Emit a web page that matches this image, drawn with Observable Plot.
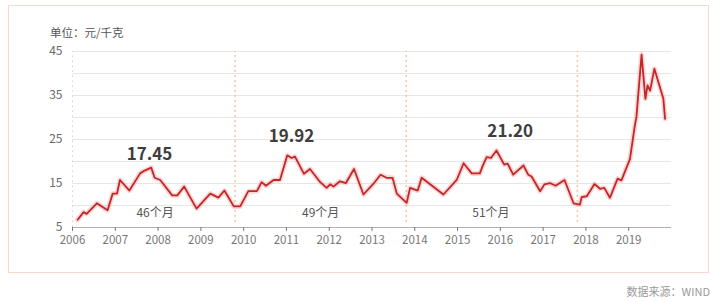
<!DOCTYPE html>
<html>
<head>
<meta charset="utf-8">
<script src="https://cdn.jsdelivr.net/npm/d3@7"></script>
<script src="https://cdn.jsdelivr.net/npm/@observablehq/plot@0.6"></script>
<style>
  html, body { margin: 0; padding: 0; background: #fff; }
  #wrap { position: relative; width: 720px; height: 302px; overflow: hidden; font-family: "Noto Sans CJK SC", "Noto Sans", sans-serif; }
  #frame { position: absolute; left: 8px; top: 5px; width: 701px; height: 268px; border: 1.5px solid #f6d9cf; box-sizing: border-box; }
  #unit { position: absolute; left: 50px; top: 24px; font-size: 11.5px; color: #555; }
  #source { position: absolute; right: 10px; top: 283px; font-size: 11px; color: #9a9a9a; }
  #chart { position: absolute; left: 0; top: 0; }
</style>
</head>
<body>
<div id="wrap">
  <div id="frame"></div>
  <div id="unit">单位：元/千克</div>
  <div id="source">数据来源：WIND</div>
  <div id="chart"></div>
</div>
<script>
// time (decimal year) and price (元/千克)
const t = [2006.12, 2006.26, 2006.33, 2006.57, 2006.82, 2006.94, 2007.04, 2007.11, 2007.33, 2007.58,
  2007.66, 2007.84, 2007.92, 2008.05, 2008.33, 2008.45, 2008.61, 2008.90, 2009.22, 2009.41,
  2009.55, 2009.77, 2009.92, 2010.11, 2010.31, 2010.42, 2010.52, 2010.70, 2010.85, 2011.02,
  2011.12, 2011.20, 2011.41, 2011.55, 2011.79, 2011.94, 2012.02, 2012.10, 2012.25, 2012.39,
  2012.58, 2012.80, 2013.03, 2013.20, 2013.34, 2013.48, 2013.58, 2013.81, 2013.89, 2014.07,
  2014.16, 2014.67, 2014.98, 2015.14, 2015.33, 2015.52, 2015.60, 2015.68, 2015.78, 2015.91,
  2016.09, 2016.17, 2016.30, 2016.54, 2016.65, 2016.73, 2016.93, 2017.03, 2017.16, 2017.29,
  2017.50, 2017.71, 2017.86, 2017.90, 2018.02, 2018.20, 2018.33, 2018.43, 2018.56, 2018.74,
  2018.83, 2019.03, 2019.14, 2019.18, 2019.30, 2019.39, 2019.44, 2019.50, 2019.60, 2019.81,
  2019.85];
const price = [6.75, 8.5, 8.1, 10.5, 8.9, 12.7, 12.7, 15.8, 13.4, 17.3,
  17.8, 18.6, 16.3, 15.8, 12.3, 12.3, 14.3, 9.3, 12.7, 11.8,
  13.4, 9.8, 9.8, 13.25, 13.25, 15.3, 14.5, 15.8, 15.8, 21.4,
  20.8, 21.1, 17.2, 18.3, 15.3, 14.0, 14.8, 14.3, 15.5, 15.1,
  18.3, 12.5, 14.9, 17.0, 16.3, 16.3, 12.7, 10.6, 14.0, 13.4,
  16.3, 12.5, 15.8, 19.6, 17.3, 17.3, 19.3, 21.0, 20.8, 22.5,
  19.3, 19.5, 17.0, 19.1, 17.0, 16.6, 13.25, 14.8, 15.1, 14.5,
  15.8, 10.5, 10.2, 11.9, 12.1, 14.9, 13.8, 14.0, 11.75, 16.1,
  15.7, 20.6, 28.0, 30.1, 44.3, 34.25, 37.3, 36.1, 41.1, 34.25,
  29.7];

const years = d3.range(2006, 2020);
const yTicks = [5, 15, 25, 35, 45];
const gridValues = [10, 15, 20, 25, 30, 35, 40, 45];
const cycleSplits = [2009.8, 2013.8, 2017.8];

const peakLabels = ["17.45", "19.92", "21.20"];
const peakX = [2007.8, 2011.12, 2016.23];
const peakY = [21.6, 25.6, 26.7];

const spanLabels = ["46个月", "49个月", "51个月"];
const spanX = [2007.93, 2011.8, 2015.78];
const spanY = [8.2, 8.2, 8.3];

const series = t.map((x, i) => ({x, y: price[i]}));
const peaks = peakLabels.map((s, i) => ({s, x: peakX[i], y: peakY[i]}));
const spans = spanLabels.map((s, i) => ({s, x: spanX[i], y: spanY[i]}));

const font = "'Noto Sans CJK SC', 'Noto Sans', sans-serif";

const chart = Plot.plot({
  width: 720,
  height: 302,
  marginLeft: 72,
  marginRight: 49,
  marginTop: 51,
  marginBottom: 75,
  style: {fontFamily: font, background: "transparent"},
  x: {domain: [2006, 2020], label: null},
  y: {domain: [5, 45], label: null},
  marks: [
    Plot.gridY(gridValues, {stroke: "#e6e6e6", strokeOpacity: 1}),
    Plot.ruleX([2006], {y1: 5, y2: 45, stroke: "#e3cfc8", strokeDasharray: "1.5,3.5"}),
    Plot.ruleX(cycleSplits, {y1: 6.2, y2: 45, stroke: "#f2b07c", strokeWidth: 1.5, strokeDasharray: "1.5,3.5"}),
    Plot.ruleY([5], {stroke: "#b0b0b0"}),
    Plot.axisY(yTicks, {tickSize: 0, tickPadding: 10, fontSize: 12, color: "#6a6a6a", label: null}),
    Plot.axisX(years, {tickSize: 4, tickPadding: 4, fontSize: 11.5, color: "#777", label: null, tickFormat: d => String(d)}),
    Plot.lineY(series, {x: "x", y: "y", stroke: "#f4a7a2", strokeWidth: 5, strokeOpacity: 0.45, strokeLinejoin: "round"}),
    Plot.lineY(series, {x: "x", y: "y", stroke: "#c2272a", strokeWidth: 1.8, strokeLinejoin: "round"}),
    Plot.text(peaks, {x: "x", y: "y", text: "s", fontSize: 17, fontWeight: "bold", fill: "#3e3e3e"}),
    Plot.text(spans, {x: "x", y: "y", text: "s", fontSize: 12, fill: "#555"})
  ]
});
document.getElementById("chart").appendChild(chart);
</script>
</body>
</html>
